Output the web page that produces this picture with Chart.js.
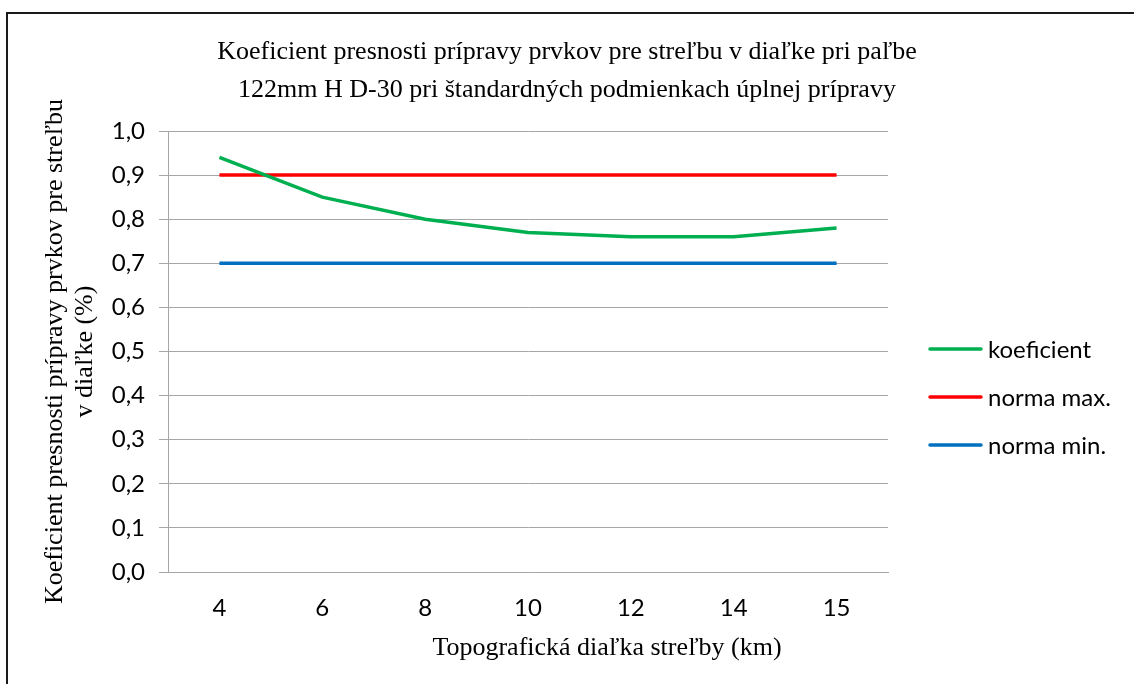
<!DOCTYPE html>
<html>
<head>
<meta charset="utf-8">
<script src="https://cdn.jsdelivr.net/npm/chart.js@4"></script>
<style>
  html, body { margin: 0; padding: 0; background: #fff; overflow: hidden; }
  #frame {
    position: absolute;
    left: 6px;
    top: 12px;
    width: 1300px;
    height: 900px;
    border-left: 2px solid #1a1a1a;
    border-top: 2px solid #1a1a1a;
  }
  #line-chart { position: absolute; left: 0; top: 0; }
</style>
</head>
<body>
<div id="frame"></div>
<canvas id="line-chart" width="1134" height="684"></canvas>
<script>
// Chart data
var categories = ["4", "6", "8", "10", "12", "14", "15"];
var koeficient = [0.94, 0.85, 0.80, 0.77, 0.76, 0.76, 0.78];
var normaMax = [0.9, 0.9, 0.9, 0.9, 0.9, 0.9, 0.9];
var normaMin = [0.7, 0.7, 0.7, 0.7, 0.7, 0.7, 0.7];
var seriesNames = ["koeficient", "norma max.", "norma min."];

var chartTitle = [
  "Koeficient presnosti prípravy prvkov pre streľbu v diaľke pri paľbe",
  "122mm H D-30 pri štandardných podmienkach úplnej prípravy",
];
var yTitle = ["Koeficient presnosti prípravy prvkov pre streľbu", "v diaľke (%)"];
var xTitle = "Topografická diaľka streľby (km)";

var serif = "'Liberation Serif', 'Times New Roman', serif";
var sans = "Lato, 'Open Sans', sans-serif";

document.addEventListener("DOMContentLoaded", function () {
  var ctx = document.getElementById("line-chart").getContext("2d");

  // Line options shared by all series
  var options = {
    borderWidth: 3.5,
    pointRadius: 0,
    tension: 0,
    fill: false,
  };

  // Legend drawn at the right, like the Excel one
  var sideLegend = {
    id: "sideLegend",
    afterDraw: function (chart) {
      var c = chart.ctx;
      c.save();
      c.font = "24px " + sans;
      c.textBaseline = "middle";
      c.textAlign = "left";
      chart.data.datasets.forEach(function (ds, i) {
        var y = 349 + i * 48;
        c.strokeStyle = ds.borderColor;
        c.lineWidth = 3.5;
        c.lineCap = "round";
        c.beginPath();
        c.moveTo(930, y);
        c.lineTo(981, y);
        c.stroke();
        c.fillStyle = "#000";
        c.fillText(ds.label, 988, y + 1);
      });
      c.restore();
    },
  };

  // X axis title (Excel puts it right of the plot centre)
  var xAxisTitle = {
    id: "xAxisTitle",
    afterDraw: function (chart) {
      var c = chart.ctx;
      c.save();
      c.font = "26px " + serif;
      c.fillStyle = "#000";
      c.textAlign = "center";
      c.textBaseline = "middle";
      c.fillText(xTitle, 607, 648);
      c.restore();
    },
  };

  new Chart(ctx, {
    type: "line",
    data: {
      labels: categories,
      datasets: [
        { label: seriesNames[0], data: koeficient, ...options, borderColor: "#00B050" },
        { label: seriesNames[1], data: normaMax, ...options, borderColor: "#FF0000" },
        { label: seriesNames[2], data: normaMin, ...options, borderColor: "#0070C0" },
      ],
    },
    plugins: [sideLegend, xAxisTitle],
    options: {
      responsive: false,
      animation: false,
      layout: {
        padding: { left: 0, right: 0, top: 0, bottom: 32 },
      },
      plugins: {
        legend: { display: false },
        tooltip: { enabled: false },
        title: {
          display: true,
          text: chartTitle,
          color: "#000",
          font: { family: serif, size: 26, weight: "normal", lineHeight: 38 / 26 },
          padding: { top: 33, bottom: 22 },
        },
      },
      scales: {
        x: {
          offset: true,
          grid: { display: false, drawTicks: false },
          border: { display: true, color: "#A6A6A6", width: 1 },
          ticks: {
            color: "#000",
            font: { family: sans, size: 24 },
            padding: 22,
          },
          afterFit: function (scale) {
            scale.height = 80;
          },
        },
        y: {
          min: 0,
          max: 1,
          grid: { color: "#A6A6A6", lineWidth: 1, tickLength: 9 },
          border: { display: true, color: "#A6A6A6", width: 1 },
          ticks: {
            stepSize: 0.1,
            color: "#000",
            font: { family: sans, size: 24 },
            padding: 14,
            callback: function (value) {
              return value.toFixed(1).replace(".", ",");
            },
          },
          title: {
            display: true,
            text: yTitle,
            color: "#000",
            font: { family: serif, size: 26, lineHeight: 30 / 26 },
            padding: { top: 40, bottom: 0 },
          },
          afterFit: function (scale) {
            scale.width = 168;
          },
        },
        // empty right scale that keeps room for the legend
        side: {
          position: "right",
          display: true,
          grid: { display: false, drawTicks: false },
          border: { display: false },
          ticks: { display: false },
          afterFit: function (scale) {
            scale.width = 246;
          },
        },
      },
    },
  });
});
</script>
</body>
</html>
